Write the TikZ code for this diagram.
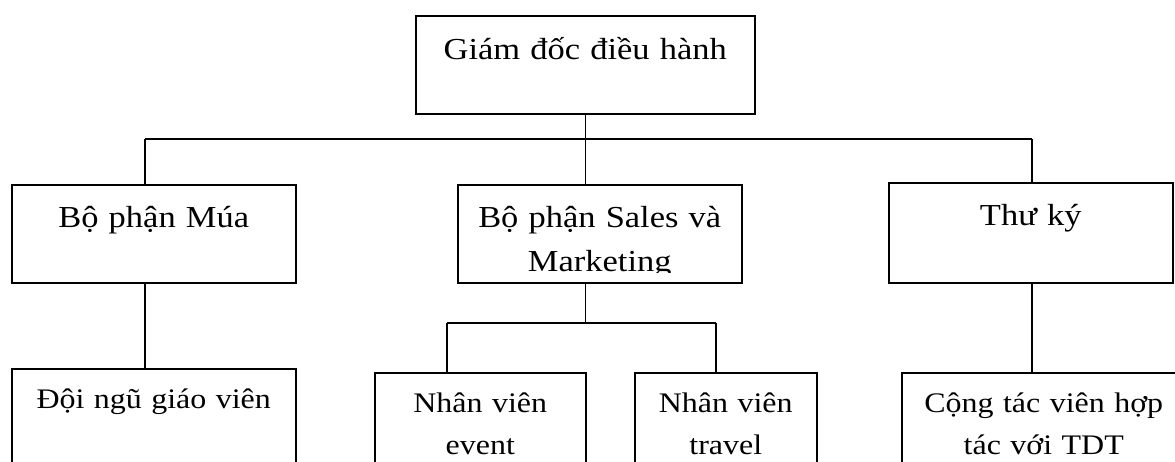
\documentclass[tikz,border=0pt]{standalone}
\usepackage{fontspec}
\setmainfont{Liberation Serif}[FakeStretch=1.13]
\usetikzlibrary{
  positioning,
  calc}
\tikzset{
  %% orgbox : one unit of the company, text at the top of the box
  orgbox/.style={
    rectangle,
    draw=black,
    line width=1.5pt,
    inner sep=0pt,
    anchor=north west,
    align=center
  },
  %% uppertext : first line baseline and font, upper rows
  uppertext/.style={
    font=\fontsize{30.5}{44}\selectfont,
    text height=43pt,
    text depth=55pt
  },
  %% lowertext : first line baseline and font, lowest row
  lowertext/.style={
    font=\fontsize{28.3}{42}\selectfont,
    text height=40pt,
    text depth=60pt
  },
  %% link : plain connector line
  link/.style={black, line width=1.5pt}
}

\begin{document}
\begin{tikzpicture}
  [x=1pt,
  y=-1pt]

  \useasboundingbox (0, 0) rectangle (1175, 461);
  \clip (0, 0) rectangle (1175, 461);

  %% Grid for orientation. Comment out for final figure!
  %\draw[help lines, green](0, 0) grid[step=50] (1175, 461);

  %% Director
  \node (giamdoc) [orgbox, uppertext, text width=339pt, text height=44pt,
  text depth=54pt] at (415, 15) {%
    Giám đốc điều hành};

  %% Departments
  \node (mua) [orgbox, uppertext, text width=284pt] at (11, 184) {%
    Bộ phận Múa};

  %% text runs out of the box at the bottom
  \begin{scope}[even odd rule]
    \clip (450, 177) rectangle (748, 290)
    (459, 272) rectangle (739, 280.5);
    \node (sales) [orgbox, uppertext, text width=284pt] at (457, 184) {%
      Bộ phận Sales và\\
      Marketing};
  \end{scope}

  \node (thuky) [orgbox, uppertext, text width=284pt,
  text depth=57pt] at (888, 182) {%
    Thư ký};

  %% Staff
  \node (doingu) [orgbox, lowertext, text width=284pt] at (11, 368) {%
    Đội ngũ giáo viên};

  \node (event) [orgbox, lowertext, text width=211pt] at (374, 372) {%
    Nhân viên\\
    event};

  \node (travel) [orgbox, lowertext, text width=182pt] at (634, 372) {%
    Nhân viên\\
    travel};

  \node (congtac) [orgbox, lowertext, text width=284pt] at (901, 372) {%
    Cộng tác viên hợp\\
    tác với TDT};

  %% Connections
  \coordinate (busleft) at (145, 139);
  \coordinate (busright) at (1032, 139);
  \draw [link] (busleft) -- (busright);
  \draw [link] (giamdoc.south) -- (giamdoc.south |- sales.north);
  \draw [link] (busleft) -- (busleft |- mua.north);
  \draw [link] (busright) -- (busright |- thuky.north);
  \draw [link] (mua.south -| busleft) -- (doingu.north -| busleft);
  \draw [link] (thuky.south -| busright) -- (congtac.north -| busright);

  \coordinate (subleft) at (447, 323);
  \coordinate (subright) at (716, 323);
  \draw [link] (sales.south -| giamdoc.south) -- (giamdoc.south |- subleft);
  \draw [link] (subleft) -- (subright);
  \draw [link] (subleft) -- (subleft |- event.north);
  \draw [link] (subright) -- (subright |- travel.north);

\end{tikzpicture}
\end{document}
